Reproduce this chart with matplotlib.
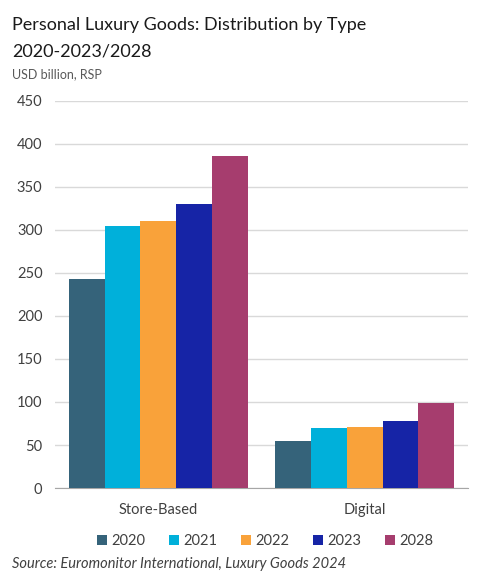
import matplotlib.pyplot as plt
import numpy as np

categories = ['Store-Based', 'Digital']
years = ['2020', '2021', '2022', '2023', '2028']
values = {
    '2020': [243, 55],
    '2021': [305, 70],
    '2022': [310, 71],
    '2023': [330, 78],
    '2028': [386, 99],
}
colors = ['#35637A', '#00B0DA', '#F9A23A', '#1624A6', '#A63D6E']

plt.rcParams['font.family'] = ['Lato', 'DejaVu Sans']

fig = plt.figure(figsize=(5.0, 5.78), dpi=100)
ax = fig.add_axes([0.11, 0.1557, 0.826, 0.6696])

x = np.arange(len(categories))
w = 0.173
for i, yr in enumerate(years):
    ax.bar(x + (i - 2) * w, values[yr], width=w, color=colors[i], label=yr, zorder=3)

ax.set_xlim(-0.5, 1.5)
ax.set_ylim(0, 450)
ax.set_yticks(range(0, 451, 50))
ax.set_xticks(x)
ax.set_xticklabels(categories)
ax.grid(axis='y', color='#D9D9D9', lw=1, zorder=0)
for s in ['top', 'right', 'left']:
    ax.spines[s].set_visible(False)
ax.spines['bottom'].set_color('#A6A6A6')
ax.tick_params(axis='both', length=0, labelsize=10.5, colors='#404040', pad=9)
ax.tick_params(axis='x', pad=11)

fig.text(0.024, 0.948, 'Personal Luxury Goods: Distribution by Type', fontsize=13, color='#1a1a1a')
fig.text(0.024, 0.902, '2020-2023/2028', fontsize=13, color='#1a1a1a')
fig.text(0.024, 0.865, 'USD billion, RSP', fontsize=9, color='#595959')

ax.legend(loc='center', bbox_to_anchor=(0.53, 0.064), bbox_transform=fig.transFigure,
          ncol=5, frameon=False, fontsize=10.5, handlelength=0.7, handleheight=0.7,
          handletextpad=0.3, columnspacing=1.6, labelcolor='#404040')

fig.text(0.024, 0.018, 'Source: Euromonitor International, Luxury Goods 2024', fontsize=10.5,
         style='italic', color='#404040')

fig.savefig('out.png', dpi=100)
